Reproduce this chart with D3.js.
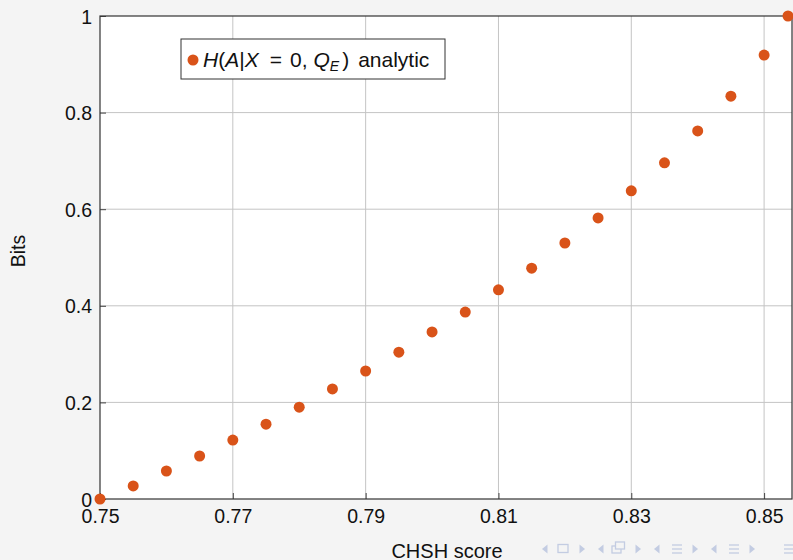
<!DOCTYPE html>
<html>
<head>
<meta charset="utf-8">
<script src="https://cdn.jsdelivr.net/npm/d3@7"></script>
<style>
  html, body { margin: 0; padding: 0; background: #f4f4f4; }
  svg { display: block; font-family: "Liberation Sans", Arial, sans-serif; }
</style>
</head>
<body>
<svg id="chart" width="793" height="560"></svg>
<script>
// CHSH score vs conditional entropy (bits)
const chshScores = [0.75, 0.755, 0.76, 0.765, 0.77, 0.775, 0.78, 0.785, 0.79, 0.795,
  0.80, 0.805, 0.81, 0.815, 0.82, 0.825, 0.83, 0.835, 0.84, 0.845, 0.85, 0.8536];
const entropyBits = [0, 0.027, 0.058, 0.089, 0.122, 0.155, 0.190, 0.228, 0.265, 0.304,
  0.346, 0.387, 0.433, 0.478, 0.530, 0.582, 0.638, 0.696, 0.762, 0.834, 0.919, 1.0];
const xTicks = [0.75, 0.77, 0.79, 0.81, 0.83, 0.85];
const yTicks = [0, 0.2, 0.4, 0.6, 0.8, 1];

const svg = d3.select("#chart");
const plotL = 100, plotR = 792, plotT = 16, plotB = 499;

const x = d3.scaleLinear().domain([0.75, 0.8542]).range([plotL, plotR]);
const y = d3.scaleLinear().domain([0, 1]).range([plotB, plotT]);

// plot area
svg.append("rect")
  .attr("x", plotL).attr("y", plotT)
  .attr("width", plotR - plotL).attr("height", plotB - plotT)
  .attr("fill", "#ffffff");

// grid
svg.append("g").selectAll("line").data(xTicks.slice(1)).join("line")
  .attr("x1", d => x(d)).attr("x2", d => x(d))
  .attr("y1", plotT).attr("y2", plotB)
  .attr("stroke", "#c4c4c4").attr("stroke-width", 1);
svg.append("g").selectAll("line").data(yTicks.slice(1, -1)).join("line")
  .attr("x1", plotL).attr("x2", plotR)
  .attr("y1", d => y(d)).attr("y2", d => y(d))
  .attr("stroke", "#c4c4c4").attr("stroke-width", 1);

// axes with inward ticks
const xAxis = d3.axisBottom(x).tickValues(xTicks).tickFormat(d3.format(".2f"))
  .tickSizeInner(-6).tickSizeOuter(0).tickPadding(0);
const yAxis = d3.axisLeft(y).tickValues(yTicks).tickFormat(d => d === 0 || d === 1 ? d3.format("d")(d) : d3.format(".1f")(d))
  .tickSizeInner(-6).tickSizeOuter(0).tickPadding(8);

const gx = svg.append("g").attr("transform", `translate(0,${plotB})`).call(xAxis);
const gy = svg.append("g").attr("transform", `translate(${plotL},0)`).call(yAxis);
[gx, gy].forEach(g => {
  g.select(".domain").remove();
  g.selectAll(".tick line").attr("stroke", "#444");
  g.selectAll(".tick text").attr("fill", "#111").style("font-size", "19.5px")
    .style("font-family", "'Liberation Sans', Arial, sans-serif");
});
gx.selectAll(".tick text").attr("y", 24).attr("dy", null);
gy.selectAll(".tick text").attr("dy", "0.36em");

// frame
svg.append("rect")
  .attr("x", plotL).attr("y", plotT)
  .attr("width", plotR - plotL).attr("height", plotB - plotT)
  .attr("fill", "none").attr("stroke", "#333").attr("stroke-width", 1.2);

// points
svg.append("g").selectAll("circle").data(chshScores.map((c, i) => [c, entropyBits[i]])).join("circle")
  .attr("cx", d => x(d[0])).attr("cy", d => y(d[1]))
  .attr("r", 5.5).attr("fill", "#d95319");

// legend: marker + math-style label set as one flowing text run
const lg = svg.append("g").attr("transform", "translate(181,39)");
lg.append("rect").attr("width", 264).attr("height", 40)
  .attr("fill", "#fff").attr("stroke", "#333").attr("stroke-width", 1);
lg.append("circle").attr("cx", 12).attr("cy", 21).attr("r", 5.5).attr("fill", "#d95319");
const lt = lg.append("text").attr("x", 22).attr("y", 28).attr("fill", "#111")
  .style("font-size", "21px");
const pieces = [
  { t: "H", it: true },
  { t: "(" },
  { t: "A", it: true },
  { t: "|" },
  { t: "X", it: true },
  { t: "=", dx: 11 },
  { t: "0", dx: 8 },
  { t: "," },
  { t: "Q", dx: 6, it: true },
  { t: "E", it: true, sub: true },
  { t: ")", dx: 3, up: true },
  { t: "analytic", dx: 9 }
];
pieces.forEach(p => {
  const s = lt.append("tspan").text(p.t);
  if (p.dx) s.attr("dx", p.dx);
  if (p.it) s.style("font-style", "italic");
  if (p.sub) s.style("font-size", "14px").attr("dy", 4);
  if (p.up) s.attr("dy", -4);
});

// axis titles
svg.append("text").attr("x", 447).attr("y", 558).attr("text-anchor", "middle")
  .attr("fill", "#111").style("font-size", "20px").text("CHSH score");
svg.append("text").attr("transform", "translate(25,251) rotate(-90)")
  .attr("text-anchor", "middle").attr("fill", "#111").style("font-size", "19.5px").text("Bits");

// navigation symbols
const nav = svg.append("g").attr("fill", "#c3cce2").attr("stroke", "#c3cce2");
const navY = 549;
function tri(xc, dir) {
  nav.append("path").attr("stroke", "none")
    .attr("d", dir < 0 ? `M${xc + 2.5},${navY - 4.5}L${xc - 3},${navY}L${xc + 2.5},${navY + 4.5}Z`
                        : `M${xc - 2.5},${navY - 4.5}L${xc + 3},${navY}L${xc - 2.5},${navY + 4.5}Z`);
}
function lines(xc) {
  for (let k = -1; k <= 1; k++) {
    nav.append("line").attr("x1", xc - 5).attr("x2", xc + 5)
      .attr("y1", navY + k * 4).attr("y2", navY + k * 4).attr("stroke-width", 1.3);
  }
}
tri(545, -1);
nav.append("rect").attr("x", 558).attr("y", navY - 4.5).attr("width", 10).attr("height", 8).attr("fill", "none").attr("stroke-width", 1.3);
tri(582, 1);
tri(601, -1);
nav.append("rect").attr("x", 612).attr("y", navY - 3).attr("width", 9).attr("height", 7).attr("fill", "none").attr("stroke-width", 1.3);
nav.append("rect").attr("x", 615.5).attr("y", navY - 7).attr("width", 9).attr("height", 7).attr("fill", "#f4f4f4").attr("stroke-width", 1.3);
tri(638, 1);
tri(657, -1);
lines(677);
tri(695, 1);
tri(714, -1);
lines(734);
tri(752, 1);
lines(789);
</script>
</body>
</html>
